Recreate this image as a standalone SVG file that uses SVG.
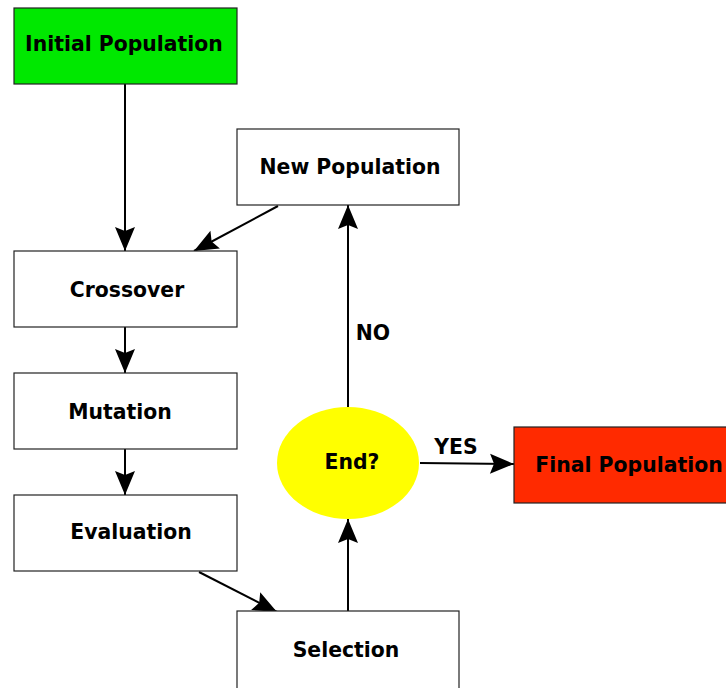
<svg xmlns="http://www.w3.org/2000/svg" width="726" height="688" viewBox="0 0 726 688">
<defs>
<marker id="ah" viewBox="-25 -11 26 22" refX="0" refY="0" markerUnits="userSpaceOnUse" markerWidth="26" markerHeight="22" orient="auto">
<path d="M0,0 L-24,-10 L-20,0 L-24,10 Z" fill="#000"/>
</marker>
<style>
.box{stroke:#222;stroke-width:1.2}
.t{font-family:"DejaVu Sans",sans-serif;font-weight:bold;font-size:20.4px;text-anchor:middle;fill:#000}
.c{stroke:#000;stroke-width:2;fill:none;marker-end:url(#ah)}
</style>
</defs>
<rect width="726" height="688" fill="#fff"/>
<g id="connectors">
<line class="c" x1="125" y1="84" x2="125" y2="251"/>
<line class="c" x1="278" y1="206" x2="194" y2="251"/>
<line class="c" x1="125" y1="327" x2="125" y2="373"/>
<line class="c" x1="125" y1="449" x2="125" y2="495"/>
<line class="c" x1="199" y1="572" x2="277" y2="612"/>
<line class="c" x1="348" y1="611" x2="348" y2="519"/>
<line class="c" x1="348" y1="407" x2="348" y2="205"/>
<line class="c" x1="420" y1="463" x2="514" y2="464"/>
<text class="t" x="373" y="340">NO</text>
<text class="t" x="456" y="454">YES</text>
</g>
<g id="initial"><rect class="box" x="14" y="8" width="223" height="76" fill="#00e800"/><text class="t" x="124" y="51">Initial Population</text></g>
<g id="newpop"><rect class="box" x="237" y="129" width="222" height="76" fill="#fff"/><text class="t" x="350" y="174">New Population</text></g>
<g id="crossover"><rect class="box" x="14" y="251" width="223" height="76" fill="#fff"/><text class="t" x="127" y="297">Crossover</text></g>
<g id="mutation"><rect class="box" x="14" y="373" width="223" height="76" fill="#fff"/><text class="t" x="120" y="419">Mutation</text></g>
<g id="evaluation"><rect class="box" x="14" y="495" width="223" height="76" fill="#fff"/><text class="t" x="131" y="539">Evaluation</text></g>
<g id="selection"><rect class="box" x="237" y="611" width="222" height="80" fill="#fff"/><text class="t" x="346" y="657">Selection</text></g>
<g id="end"><ellipse cx="348" cy="463" rx="71" ry="56" fill="#ffff00"/><text class="t" x="352" y="469">End?</text></g>
<g id="final"><rect class="box" x="514" y="427" width="216" height="76" fill="#ff2a00"/><text class="t" x="629" y="472">Final Population</text></g>
</svg>
